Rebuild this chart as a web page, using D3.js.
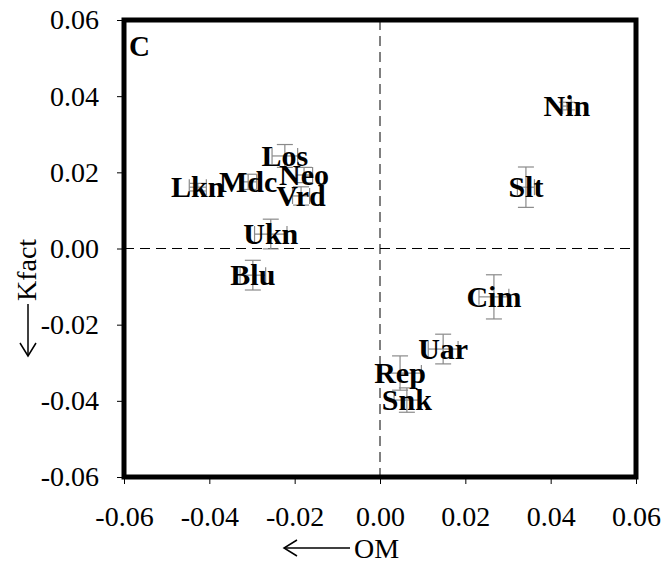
<!DOCTYPE html>
<html>
<head>
<meta charset="utf-8">
<script src="https://cdnjs.cloudflare.com/ajax/libs/d3/7.8.5/d3.min.js"></script>
<style>
  body { margin: 0; background: #fff; }
</style>
</head>
<body>
<svg id="chart" width="665" height="565"></svg>
<script>
// data
const sites = ["Lkn", "Mdc", "Los", "Neo", "Vrd", "Ukn", "Blu", "Rep", "Snk", "Uar", "Nin", "Slt", "Cim"];
const omVals = [-0.0427, -0.0309, -0.0223, -0.0178, -0.0185, -0.0256, -0.0298, 0.0047, 0.0063, 0.0148, 0.0438, 0.0342, 0.0267];
const kVals  = [0.0161, 0.0175, 0.0243, 0.0193, 0.0138, 0.0038, -0.0070, -0.0327, -0.0398, -0.0264, 0.0374, 0.0161, -0.0127];
const omErr  = [0.002, 0.002, 0.003, 0.002, 0.002, 0.0038, 0.003, 0.005, 0.003, 0.0035, 0.001, 0.002, 0.0035];
const kErr   = [0.001, 0.002, 0.003, 0.002, 0.0024, 0.0039, 0.0039, 0.0045, 0.0032, 0.0039, 0.001, 0.0053, 0.0058];
const tickVals = [-0.06, -0.04, -0.02, 0, 0.02, 0.04, 0.06];
const tickLabels = ["-0.06", "-0.04", "-0.02", "0.00", "0.02", "0.04", "0.06"];

const svg = d3.select("#chart");
const x = d3.scaleLinear().domain([-0.06, 0.06]).range([124, 636]);
const y = d3.scaleLinear().domain([-0.06, 0.06]).range([477, 20]);
const serif = "'Liberation Serif'";

const pts = sites.map((s, i) => ({name: s, x: omVals[i], y: kVals[i], ex: omErr[i], ey: kErr[i]}));

// dashed zero lines
svg.append("line").attr("x1", x(0)).attr("x2", x(0)).attr("y1", y(0.06)).attr("y2", y(-0.06))
    .attr("stroke", "black").attr("stroke-width", 1).attr("stroke-dasharray", "10,6");
svg.append("line").attr("x1", x(-0.06)).attr("x2", x(0.06)).attr("y1", y(0)).attr("y2", y(0))
    .attr("stroke", "black").attr("stroke-width", 1).attr("stroke-dasharray", "10,6");

// axes
const fmt = d => tickLabels[tickVals.indexOf(d)];
const xa = svg.append("g").attr("transform", `translate(0,${y(-0.06)})`)
    .call(d3.axisBottom(x).tickValues(tickVals).tickFormat(fmt).tickSize(7).tickPadding(22));
const ya = svg.append("g").attr("transform", `translate(${x(-0.06)},0)`)
    .call(d3.axisLeft(y).tickValues(tickVals).tickFormat(fmt).tickSize(7).tickPadding(18));
[xa, ya].forEach(a => {
    a.attr("font-family", null).attr("font-size", null);
    a.select(".domain").remove();
    a.selectAll("line").attr("stroke", "black");
    a.selectAll("text").attr("fill", "black")
        .style("font-family", serif).style("font-size", "28px");
});

// error bars
const eb = svg.append("g").attr("stroke", "#8a8a8a").attr("stroke-width", 1.2);
const cap = 8;
pts.forEach(d => {
    const cx = x(d.x), cy = y(d.y);
    eb.append("line").attr("x1", cx).attr("x2", cx).attr("y1", y(d.y - d.ey)).attr("y2", y(d.y + d.ey));
    eb.append("line").attr("x1", cx - cap).attr("x2", cx + cap).attr("y1", y(d.y - d.ey)).attr("y2", y(d.y - d.ey));
    eb.append("line").attr("x1", cx - cap).attr("x2", cx + cap).attr("y1", y(d.y + d.ey)).attr("y2", y(d.y + d.ey));
    eb.append("line").attr("x1", x(d.x - d.ex)).attr("x2", x(d.x + d.ex)).attr("y1", cy).attr("y2", cy);
    eb.append("line").attr("x1", x(d.x - d.ex)).attr("x2", x(d.x - d.ex)).attr("y1", cy - cap).attr("y2", cy + cap);
    eb.append("line").attr("x1", x(d.x + d.ex)).attr("x2", x(d.x + d.ex)).attr("y1", cy - cap).attr("y2", cy + cap);
});

// site labels
svg.selectAll("text.site").data(pts).join("text").attr("class", "site")
    .attr("x", d => x(d.x)).attr("y", d => y(d.y) + 10)
    .attr("text-anchor", "middle")
    .style("font-family", serif).style("font-size", "30px").style("font-weight", "bold")
    .text(d => d.name);

// frame
svg.append("rect").attr("x", x(-0.06)).attr("y", y(0.06))
    .attr("width", x(0.06) - x(-0.06)).attr("height", y(-0.06) - y(0.06))
    .attr("fill", "none").attr("stroke", "black").attr("stroke-width", 5);

// panel letter
svg.append("text").attr("x", 129).attr("y", 56)
    .style("font-family", serif).style("font-size", "29px").style("font-weight", "bold").text("C");

// axis titles with arrows
svg.append("text").attr("x", 354).attr("y", 558)
    .style("font-family", serif).style("font-size", "28px").text("OM");
svg.append("line").attr("x1", 350).attr("x2", 284).attr("y1", 548).attr("y2", 548).attr("stroke", "black").attr("stroke-width", 1.5);
svg.append("path").attr("d", "M297,540 L284,548 L297,556").attr("fill", "none").attr("stroke", "black").attr("stroke-width", 1.5);

svg.append("text").attr("transform", "translate(36,270) rotate(-90)").attr("text-anchor", "middle")
    .style("font-family", serif).style("font-size", "28px").text("Kfact");
svg.append("line").attr("x1", 28).attr("x2", 28).attr("y1", 304).attr("y2", 356).attr("stroke", "black").attr("stroke-width", 1.5);
svg.append("path").attr("d", "M20,343 L28,356 L36,343").attr("fill", "none").attr("stroke", "black").attr("stroke-width", 1.5);
</script>
</body>
</html>
